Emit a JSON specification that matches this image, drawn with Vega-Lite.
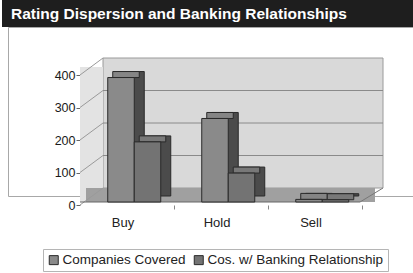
{
  "$schema": "https://vega.github.io/schema/vega-lite/v6.json",
  "padding": {"left": 2, "top": 0, "right": 0, "bottom": 0},
  "spacing": 0,
  "bounds": "flush",
  "config": {"font": "Liberation Sans", "concat": {"spacing": 0}},
  "datasets": {
    "bars": [
      {"rating": "Buy", "series": "Companies Covered", "value": 383},
      {"rating": "Buy", "series": "Cos. w/ Banking Relationship", "value": 185},
      {"rating": "Hold", "series": "Companies Covered", "value": 257},
      {"rating": "Hold", "series": "Cos. w/ Banking Relationship", "value": 89},
      {"rating": "Sell", "series": "Companies Covered", "value": 8},
      {"rating": "Sell", "series": "Cos. w/ Banking Relationship", "value": 7}
    ],
    "grid": [{"v": 0}, {"v": 100}, {"v": 200}, {"v": 300}, {"v": 400}],
    "one": [{"k": 1}]
  },
  "vconcat": [
    {
      "width": 411,
      "height": 27,
      "view": {"fill": "#1e1e1e", "stroke": null},
      "data": {"values": [{"t": "Rating Dispersion and Banking Relationships"}]},
      "mark": {"type": "text", "align": "left", "baseline": "alphabetic", "dx": -196.5, "dy": 5, "color": "#ffffff", "fontSize": 15.5, "fontWeight": "bold", "font": "Liberation Sans"},
      "encoding": {"text": {"field": "t", "type": "nominal"}}
    },
    {
      "spacing": 0,
      "bounds": "flush",
      "hconcat": [
        {
          "width": 6,
          "height": 169,
          "view": {"stroke": null},
          "data": {"values": []},
          "mark": "rect"
        },
        {
          "width": 406,
          "height": 169,
          "view": {"stroke": "#a8a8a8", "fill": "#ffffff"},
          "layer": [
            {
              "data": {"name": "one"},
              "mark": {"type": "rect", "fill": "#d9d9d9", "stroke": "#9a9a9a", "strokeWidth": 1, "xOffset": 23, "x2Offset": 21, "yOffset": -17, "y2Offset": -17},
              "encoding": {
                "x": {"datum": "Buy", "type": "nominal", "bandPosition": 0,
                  "scale": {"domain": ["Buy", "Hold", "Sell"], "range": [72, 354], "paddingInner": 0, "paddingOuter": 0},
                  "axis": {"title": null, "domain": false, "grid": false, "offset": 9, "tickSize": 4, "tickColor": "#888888", "bandPosition": 1, "labelOffset": -4, "labelPadding": 7, "labelFontSize": 13, "labelColor": "#222222", "labelFont": "Liberation Sans", "labelAngle": 0}},
                "x2": {"datum": "Sell", "bandPosition": 1},
                "y": {"datum": 0, "type": "quantitative",
                  "scale": {"domain": [0, 400], "range": [178, 48], "nice": false, "zero": false},
                  "axis": {"title": null, "domain": false, "grid": false, "offset": -72, "values": [0, 100, 200, 300, 400], "tickSize": 4, "tickColor": "#666666", "labelPadding": 1, "labelFontSize": 12.5, "labelColor": "#1a1a1a", "labelFont": "Liberation Sans"}},
                "y2": {"datum": 400}
              }
            },
            {
              "data": {"name": "one"},
              "mark": {"type": "rect", "fill": "#e3e3e3", "x2Offset": 23, "yOffset": -3, "y2Offset": -8},
              "encoding": {
                "x": {"datum": "Buy", "type": "nominal", "bandPosition": 0},
                "x2": {"datum": "Buy", "bandPosition": 0},
                "y": {"datum": 0, "type": "quantitative"},
                "y2": {"datum": 400}
              }
            },
            {
              "data": {"name": "one"},
              "mark": {"type": "rect", "fill": "#a0a0a0", "xOffset": 6, "x2Offset": 13, "yOffset": -3, "y2Offset": -17},
              "encoding": {
                "x": {"datum": "Buy", "type": "nominal", "bandPosition": 0},
                "x2": {"datum": "Sell", "bandPosition": 1},
                "y": {"datum": 0, "type": "quantitative"},
                "y2": {"datum": 0}
              }
            },
            {
              "data": {"name": "grid"},
              "transform": [{"filter": "datum.v > 0 && datum.v < 400"}],
              "mark": {"type": "rule", "color": "#8a8a8a", "strokeWidth": 1, "xOffset": 23, "x2Offset": 21, "yOffset": -17},
              "encoding": {
                "x": {"datum": "Buy", "type": "nominal", "bandPosition": 0},
                "x2": {"datum": "Sell", "bandPosition": 1},
                "y": {"field": "v", "type": "quantitative"}
              }
            },
            {
              "data": {"name": "grid"},
              "mark": {"type": "rule", "color": "#9a9a9a", "strokeWidth": 1, "x2Offset": 23, "y2Offset": -17},
              "encoding": {
                "x": {"datum": "Buy", "type": "nominal", "bandPosition": 0},
                "x2": {"datum": "Buy", "bandPosition": 0},
                "y": {"field": "v", "type": "quantitative"},
                "y2": {"field": "v"}
              }
            },
            {
              "data": {"name": "one"},
              "mark": {"type": "rule", "color": "#777777", "strokeWidth": 1, "xOffset": -2, "x2Offset": 21, "yOffset": -3, "y2Offset": -17},
              "encoding": {
                "x": {"datum": "Sell", "type": "nominal", "bandPosition": 1},
                "x2": {"datum": "Sell", "bandPosition": 1},
                "y": {"datum": 0, "type": "quantitative"},
                "y2": {"datum": 0}
              }
            },
            {
              "data": {"name": "one"},
              "mark": {"type": "rule", "color": "#666666", "strokeWidth": 1, "x2Offset": -2, "yOffset": -3},
              "encoding": {
                "x": {"datum": "Buy", "type": "nominal", "bandPosition": 0},
                "x2": {"datum": "Sell", "bandPosition": 1},
                "y": {"datum": 0, "type": "quantitative"}
              }
            },
            {
              "data": {"name": "bars"},
              "transform": [{"filter": "datum.series == 'Companies Covered'"}],
              "mark": {"type": "bar", "fill": "#4b4b4b", "stroke": "#2a2a2a", "strokeWidth": 1, "width": {"band": 0.282}, "xOffset": 4, "yOffset": -9, "y2Offset": -9},
              "encoding": {
                "x": {"field": "rating", "type": "nominal"},
                "y": {"field": "value", "type": "quantitative"}
              }
            },
            {
              "data": {"name": "bars"},
              "transform": [{"filter": "datum.series != 'Companies Covered'"}],
              "mark": {"type": "bar", "fill": "#4b4b4b", "stroke": "#2a2a2a", "strokeWidth": 1, "width": {"band": 0.282}, "xOffset": 30.5, "yOffset": -9, "y2Offset": -9},
              "encoding": {
                "x": {"field": "rating", "type": "nominal"},
                "y": {"field": "value", "type": "quantitative"}
              }
            },
            {
              "data": {"name": "bars"},
              "transform": [{"filter": "datum.series == 'Companies Covered'"}],
              "mark": {"type": "bar", "fill": "#858585", "stroke": "#2a2a2a", "strokeWidth": 1, "width": {"band": 0.282}, "xOffset": -1, "yOffset": -9, "y2Offset": -3},
              "encoding": {
                "x": {"field": "rating", "type": "nominal"},
                "y": {"field": "value", "type": "quantitative"},
                "y2": {"field": "value"}
              }
            },
            {
              "data": {"name": "bars"},
              "transform": [{"filter": "datum.series != 'Companies Covered'"}],
              "mark": {"type": "bar", "fill": "#787878", "stroke": "#2a2a2a", "strokeWidth": 1, "width": {"band": 0.282}, "xOffset": 25.5, "yOffset": -9, "y2Offset": -3},
              "encoding": {
                "x": {"field": "rating", "type": "nominal"},
                "y": {"field": "value", "type": "quantitative"},
                "y2": {"field": "value"}
              }
            },
            {
              "data": {"name": "bars"},
              "transform": [{"filter": "datum.series == 'Companies Covered'"}],
              "mark": {"type": "bar", "stroke": "#2a2a2a", "strokeWidth": 1, "width": {"band": 0.282}, "xOffset": -6, "yOffset": -3, "y2Offset": -3},
              "encoding": {
                "x": {"field": "rating", "type": "nominal"},
                "y": {"field": "value", "type": "quantitative"},
                "color": {"field": "series", "type": "nominal",
                  "scale": {"domain": ["Companies Covered", "Cos. w/ Banking Relationship"], "range": ["#8a8a8a", "#737373"]},
                  "legend": {"title": null, "orient": "none", "legendX": 41, "legendY": 249, "direction": "horizontal", "strokeColor": "#b5b5b5", "padding": 4, "symbolType": "square", "symbolSize": 81, "symbolStrokeColor": "#333333", "symbolStrokeWidth": 1, "labelFontSize": 13.5, "labelColor": "#222222", "labelFont": "Liberation Sans", "labelLimit": 300, "columnPadding": 6, "labelOffset": 2}}
              }
            },
            {
              "data": {"name": "bars"},
              "transform": [{"filter": "datum.series != 'Companies Covered'"}],
              "mark": {"type": "bar", "stroke": "#2a2a2a", "strokeWidth": 1, "width": {"band": 0.282}, "xOffset": 20.5, "yOffset": -3, "y2Offset": -3},
              "encoding": {
                "x": {"field": "rating", "type": "nominal"},
                "y": {"field": "value", "type": "quantitative"},
                "color": {"field": "series", "type": "nominal"}
              }
            }
          ]
        }
      ]
    }
  ]
}
